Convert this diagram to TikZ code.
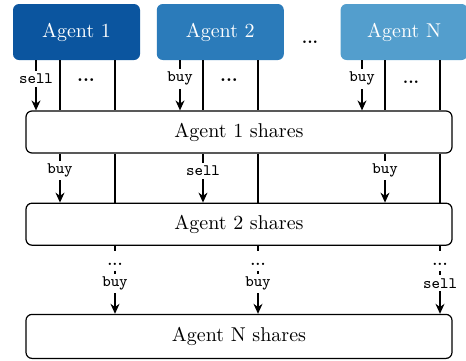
\documentclass[tikz,border=0pt]{standalone}
\usepackage{tikz}
\usetikzlibrary{positioning}
\usetikzlibrary{arrows.meta}
\definecolor{blueA}{HTML}{0B559F}
\definecolor{blueB}{HTML}{2B7BBA}
\definecolor{blueC}{HTML}{539ECD}

\begin{document}
\begin{tikzpicture}[x=0.5pt,y=-0.5pt,
    agent/.style={rounded corners=3pt, minimum width=63.5pt, minimum height=28pt, text=white},
    shares/.style={draw, semithick, rounded corners=3pt, minimum width=213pt, minimum height=21pt},
    lbl/.style={fill=white, font=\footnotesize\ttfamily, inner sep=1.5pt},
    gap/.style={fill=white, font=\scriptsize\bfseries, inner sep=1.5pt, text height=6pt, text depth=1pt},
    flow/.style={semithick, -{Stealth[length=5pt,width=4.5pt]}},
    link/.style={semithick}]
      \useasboundingbox (0,0) rectangle (466,360);

      \node(A1) [agent, fill=blueA] at (76.5,32) {Agent 1};
      \node(A2) [agent, fill=blueB, right=8pt of A1] {Agent 2};
      \node(AN) [agent, fill=blueC, right=28pt of A2] {Agent N};
      \node(Ad) at (310,42) {\footnotesize\bfseries ...};

      \node(S1) [shares] at (239,132) {Agent 1 shares};
      \node(S2) [shares, below=24.5pt of S1] {Agent 2 shares};
      \node(SN) [shares, below=34pt of S2, minimum height=22pt] {Agent N shares};

      % agents -> agent 1 shares
      \draw[flow] (A1.south -| 36,0) -- (S1.north -| 36,0) node[lbl, pos=0.37] {sell};
      \draw[link] (A1.south -| 60,0) -- (S1.north -| 60,0);
      \draw[link] (A1.south -| 115,0) -- (S1.north -| 115,0);
      \node(D1) at (86,80) {\small\bfseries ...};

      \draw[flow] (A2.south -| 180,0) -- (S1.north -| 180,0) node[lbl, pos=0.37] {buy};
      \draw[link] (A2.south -| 203,0) -- (S1.north -| 203,0);
      \draw[link] (A2.south -| 258,0) -- (S1.north -| 258,0);
      \node(D2) at (229,80) {\small\bfseries ...};

      \draw[flow] (AN.south -| 362,0) -- (S1.north -| 362,0) node[lbl, pos=0.37] {buy};
      \draw[link] (AN.south -| 385,0) -- (S1.north -| 385,0);
      \draw[link] (AN.south -| 440,0) -- (S1.north -| 440,0);
      \node(DN) at (411,82) {\footnotesize\bfseries ...};

      % agent 1 shares -> agent 2 shares
      \draw[flow] (S1.south -| 60,0) -- (S2.north -| 60,0) node[lbl, pos=0.35] {buy};
      \draw[link] (S1.south -| 115,0) -- (S2.north -| 115,0);
      \draw[flow] (S1.south -| 203,0) -- (S2.north -| 203,0) node[lbl, pos=0.35] {sell};
      \draw[link] (S1.south -| 258,0) -- (S2.north -| 258,0);
      \draw[flow] (S1.south -| 385,0) -- (S2.north -| 385,0) node[lbl, pos=0.35] {buy};
      \draw[link] (S1.south -| 440,0) -- (S2.north -| 440,0);

      % agent 2 shares -> agent N shares
      \draw[flow] (S2.south -| 115,0) -- (SN.north -| 115,0)
        node[gap, pos=0.22] {...} node[lbl, pos=0.55] {buy};
      \draw[flow] (S2.south -| 258,0) -- (SN.north -| 258,0)
        node[gap, pos=0.22] {...} node[lbl, pos=0.55] {buy};
      \draw[flow] (S2.south -| 440,0) -- (SN.north -| 440,0)
        node[gap, pos=0.22] {...} node[lbl, pos=0.55] {sell};
\end{tikzpicture}
\end{document}
